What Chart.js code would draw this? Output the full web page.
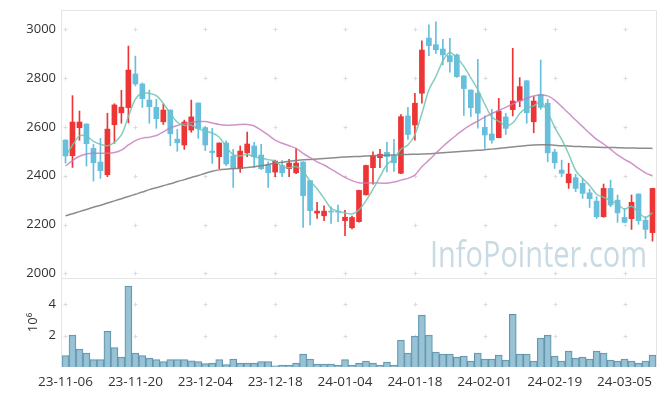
<!DOCTYPE html>
<html>
<head>
<meta charset="utf-8">
<script src="https://cdn.jsdelivr.net/npm/chart.js@4"></script>
<style>
  html, body { margin: 0; padding: 0; background: #fff; }
  #wrap { position: relative; width: 665px; height: 396px; }
</style>
</head>
<body>
<div id="wrap"><canvas id="chart" width="665" height="396"></canvas></div>
<script>
// ─── Data ───
const dates = [
    '23-11-06','23-11-07','23-11-08','23-11-09','23-11-10','23-11-13','23-11-14','23-11-15','23-11-16','23-11-17',
    '23-11-20','23-11-21','23-11-22','23-11-23','23-11-24','23-11-27','23-11-28','23-11-29','23-11-30','23-12-01',
    '23-12-04','23-12-05','23-12-06','23-12-07','23-12-08','23-12-11','23-12-12','23-12-13','23-12-14','23-12-15',
    '23-12-18','23-12-19','23-12-20','23-12-21','23-12-22','23-12-26','23-12-27','23-12-28','24-01-02','24-01-03',
    '24-01-04','24-01-05','24-01-08','24-01-09','24-01-10','24-01-11','24-01-12','24-01-15','24-01-16','24-01-17',
    '24-01-18','24-01-19','24-01-22','24-01-23','24-01-24','24-01-25','24-01-26','24-01-29','24-01-30','24-01-31',
    '24-02-01','24-02-02','24-02-05','24-02-06','24-02-07','24-02-08','24-02-13','24-02-14','24-02-15','24-02-16',
    '24-02-19','24-02-20','24-02-21','24-02-22','24-02-23','24-02-26','24-02-27','24-02-28','24-02-29','24-03-04',
    '24-03-05','24-03-06','24-03-07','24-03-08','24-03-11'
];
const opens = [
    2546,2482,2597,2612,2512,2456,2404,2609,2658,2679,
    2817,2776,2710,2680,2621,2669,2550,2526,2587,2698,
    2597,2501,2478,2534,2481,2429,2494,2522,2485,2445,
    2415,2442,2429,2412,2456,2380,2247,2236,2255,2255,
    2216,2187,2212,2322,2433,2474,2496,2482,2410,2645,
    2608,2738,2964,2937,2919,2892,2895,2809,2751,2738,
    2598,2571,2556,2641,2671,2707,2789,2621,2733,2697,
    2497,2423,2371,2392,2369,2330,2296,2232,2348,2300,
    2229,2224,2325,2218,2167
];
const highs = [
    2548,2728,2665,2613,2528,2553,2656,2695,2750,2931,
    2890,2780,2751,2713,2694,2670,2590,2628,2710,2699,
    2601,2594,2535,2543,2508,2522,2579,2537,2529,2457,
    2464,2462,2467,2511,2458,2381,2291,2277,2273,2280,
    2258,2235,2341,2444,2498,2508,2537,2549,2651,2680,
    2738,2953,3018,3031,2959,2963,2898,2810,2752,2877,
    2645,2672,2717,2656,2922,2802,2790,2724,2874,2713,
    2508,2464,2451,2406,2389,2345,2314,2366,2382,2321,
    2266,2321,2326,2232,2349
];
const lows = [
    2452,2434,2545,2440,2378,2389,2396,2533,2615,2617,
    2768,2680,2615,2594,2610,2523,2500,2508,2578,2553,
    2503,2451,2429,2441,2352,2414,2478,2434,2425,2352,
    2396,2396,2396,2408,2188,2198,2225,2216,2205,2212,
    2154,2182,2210,2320,2365,2433,2416,2418,2408,2549,
    2546,2697,2892,2901,2854,2824,2803,2647,2642,2595,
    2512,2533,2555,2569,2645,2683,2615,2576,2672,2457,
    2430,2396,2348,2335,2307,2270,2225,2230,2273,2209,
    2207,2180,2201,2143,2132
];
const closes = [
    2481,2620,2620,2531,2453,2421,2591,2690,2681,2833,
    2776,2716,2683,2634,2669,2572,2535,2620,2641,2593,
    2526,2495,2534,2448,2429,2501,2530,2478,2429,2412,
    2460,2412,2452,2452,2318,2257,2255,2255,2251,2251,
    2230,2229,2340,2442,2482,2488,2478,2453,2642,2569,
    2697,2915,2933,2916,2895,2867,2806,2757,2679,2656,
    2567,2546,2665,2594,2706,2765,2658,2706,2680,2494,
    2453,2410,2407,2348,2328,2306,2232,2348,2280,2248,
    2209,2291,2216,2180,2348
];
const ma5 = [
    2480,2525,2563,2562,2541,2529,2523,2537,2567,2643,
    2714,2739,2738,2728,2696,2655,2619,2606,2607,2592,
    2583,2575,2558,2519,2486,2481,2488,2477,2473,2466,
    2460,2438,2433,2438,2419,2378,2347,2307,2267,2254,
    2248,2243,2260,2298,2345,2396,2446,2469,2509,2526,
    2568,2655,2751,2806,2871,2905,2883,2848,2801,2753,
    2693,2641,2623,2606,2616,2655,2678,2686,2703,2661,
    2598,2549,2489,2422,2389,2360,2324,2312,2299,2283,
    2263,2275,2249,2229,2249
];
const ma20 = [
    2440,2462,2480,2489,2492,2492,2492,2495,2505,2526,
    2544,2554,2558,2565,2580,2596,2606,2613,2618,2622,
    2622,2616,2610,2607,2608,2610,2610,2604,2587,2567,
    2546,2533,2523,2512,2492,2474,2457,2444,2427,2410,
    2393,2380,2371,2370,2370,2370,2369,2374,2382,2389,
    2403,2437,2464,2492,2520,2545,2568,2590,2608,2624,
    2640,2655,2667,2680,2694,2707,2717,2727,2731,2727,
    2710,2683,2656,2628,2601,2574,2549,2530,2508,2485,
    2467,2451,2430,2412,2399
];
const maLong = [
    2236,2244,2253,2262,2271,2279,2288,2297,2306,2315,
    2324,2333,2343,2351,2359,2367,2376,2384,2393,2401,
    2410,2418,2424,2427,2429,2431,2434,2437,2441,2446,
    2451,2455,2459,2462,2465,2467,2469,2471,2473,2475,
    2477,2478,2479,2481,2482,2483,2484,2485,2486,2487,
    2488,2489,2490,2492,2494,2496,2498,2500,2502,2504,
    2506,2509,2512,2515,2518,2521,2524,2526,2527,2527,
    2525,2523,2522,2520,2519,2518,2517,2516,2516,2515,
    2514,2514,2513,2513,2512
];
// volume in millions of shares
const volume = [
    0.72,2.03,1.14,0.89,0.47,0.47,2.28,1.23,0.63,5.16,
    0.89,0.72,0.57,0.47,0.34,0.47,0.47,0.47,0.40,0.34,
    0.21,0.25,0.47,0.15,0.51,0.25,0.25,0.25,0.34,0.34,
    0.08,0.13,0.13,0.25,0.82,0.51,0.19,0.19,0.19,0.13,
    0.47,0.13,0.25,0.38,0.25,0.13,0.32,0.13,1.71,0.89,
    1.97,3.30,2.03,0.95,0.82,0.82,0.63,0.70,0.38,0.89,
    0.51,0.51,0.76,0.44,3.36,0.82,0.82,0.38,1.84,2.03,
    0.70,0.38,1.01,0.57,0.63,0.51,1.01,0.89,0.44,0.38,
    0.51,0.38,0.25,0.38,0.76
];
const priceTicks = [2000, 2200, 2400, 2600, 2800, 3000];
const volumeTicks = [2, 4];

// ─── Colors ───
const C = {
    up:      '#ee3535',
    down:    '#66bfdc',
    ma5:     'rgba(110,196,178,0.85)',
    ma20:    'rgba(196,120,190,0.8)',
    maLong:  'rgba(128,128,128,0.9)',
    volFill: 'rgba(142,188,208,0.9)',
    volEdge: '#5e93ad',
    frame:   '#e4e4e4',
    cross:   '#dcdcdc',
    text:    '#333333',
    mark:    '#c8dae4'
};

Chart.defaults.font.family = '"Open Sans", "Noto Sans", sans-serif';
Chart.defaults.font.size = 13;
Chart.defaults.color = C.text;

const candleColors = closes.map((c, i) => c >= opens[i] ? C.up : C.down);

// frame, grid crosses and watermark
const paneDecor = {
    id: 'paneDecor',
    beforeDatasetsDraw(chart) {
        const { ctx, chartArea: a, scales: { x, yP, yV } } = chart;
        ctx.save();

        // watermark
        ctx.fillStyle = C.mark;
        ctx.font = '36px "Open Sans", "Noto Sans", sans-serif';
        ctx.textBaseline = 'alphabetic';
        ctx.textAlign = 'left';
        ctx.fillText('InfoPointer.com', 430, 267, 217);

        // frame
        ctx.strokeStyle = C.frame;
        ctx.lineWidth = 1;
        ctx.beginPath();
        ctx.moveTo(a.left - 0.5, a.bottom);
        ctx.lineTo(a.left - 0.5, a.top + 0.5);
        ctx.lineTo(a.right + 0.5, a.top + 0.5);
        ctx.lineTo(a.right + 0.5, a.bottom);
        const sep = Math.round(yP.bottom) + 0.5;
        ctx.moveTo(a.left, sep);
        ctx.lineTo(a.right, sep);
        ctx.stroke();

        // little crosses where the grid lines would meet
        ctx.strokeStyle = C.cross;
        const rows = priceTicks.map(v => yP.getPixelForValue(v))
            .concat(volumeTicks.map(v => yV.getPixelForValue(v)));
        ctx.beginPath();
        for (let i = 0; i < dates.length; i += 10) {
            const px = Math.round(x.getPixelForValue(i)) + 0.5;
            rows.forEach(r => {
                const py = Math.round(r) + 0.5;
                ctx.moveTo(px - 2, py); ctx.lineTo(px + 2, py);
                ctx.moveTo(px, py - 2); ctx.lineTo(px, py + 2);
            });
        }
        ctx.stroke();
        ctx.restore();
    }
};

const fixY = width => scale => {
    scale.width = width;
    scale.paddingTop = 0;
    scale.paddingBottom = 0;
};

new Chart(document.getElementById('chart'), {
    type: 'bar',
    data: {
        labels: dates,
        datasets: [
            { type: 'line', label: 'MA5', data: ma5, yAxisID: 'yP', borderColor: C.ma5, borderWidth: 1.5, pointRadius: 0, tension: 0.3 },
            { type: 'line', label: 'MA20', data: ma20, yAxisID: 'yP', borderColor: C.ma20, borderWidth: 1.5, pointRadius: 0, tension: 0.3 },
            { type: 'line', label: 'MA long', data: maLong, yAxisID: 'yP', borderColor: C.maLong, borderWidth: 1.5, pointRadius: 0, tension: 0.3 },
            {
                label: 'body', yAxisID: 'yP', grouped: false,
                data: opens.map((o, i) => [o, closes[i]]),
                backgroundColor: candleColors, barThickness: 5, minBarLength: 1, borderWidth: 0
            },
            {
                label: 'wick', yAxisID: 'yP', grouped: false,
                data: lows.map((l, i) => [l, highs[i]]),
                backgroundColor: candleColors, barThickness: 1, borderWidth: 0
            },
            {
                label: 'volume', yAxisID: 'yV', grouped: false,
                data: volume,
                backgroundColor: C.volFill, borderColor: C.volEdge, borderWidth: 1,
                barPercentage: 1, categoryPercentage: 1
            }
        ]
    },
    options: {
        responsive: false,
        animation: false,
        events: [],
        layout: { padding: { top: 10, right: 9, bottom: 0, left: 0 } },
        plugins: { legend: { display: false }, tooltip: { enabled: false } },
        scales: {
            x: {
                type: 'category',
                offset: true,
                grid: { display: false, drawTicks: false },
                border: { display: false },
                ticks: {
                    autoSkip: false, maxRotation: 0, padding: 7,
                    font: { size: 13.5 },
                    callback: (v, i) => i % 10 === 0 ? dates[i] : ''
                },
                afterFit: s => { s.height = 29; s.paddingLeft = 0; s.paddingRight = 0; }
            },
            yV: {
                position: 'left', stack: 'panes', stackWeight: 89,
                min: 0, max: 5.67,
                afterBuildTicks: s => { s.ticks = volumeTicks.map(v => ({ value: v })); },
                grid: { display: false, drawTicks: false },
                border: { display: false },
                ticks: { padding: 6, callback: v => String(v) },
                title: { display: true, text: '10⁶', padding: { top: 25, bottom: 0 } },
                afterFit: fixY(62)
            },
            yP: {
                position: 'left', stack: 'panes', stackWeight: 268,
                min: 1981, max: 3079,
                afterBuildTicks: s => { s.ticks = priceTicks.map(v => ({ value: v })); },
                grid: { display: false, drawTicks: false },
                border: { display: false },
                ticks: { padding: 6, callback: v => String(v) },
                afterFit: fixY(62)
            }
        }
    },
    plugins: [paneDecor]
});
</script>
</body>
</html>
